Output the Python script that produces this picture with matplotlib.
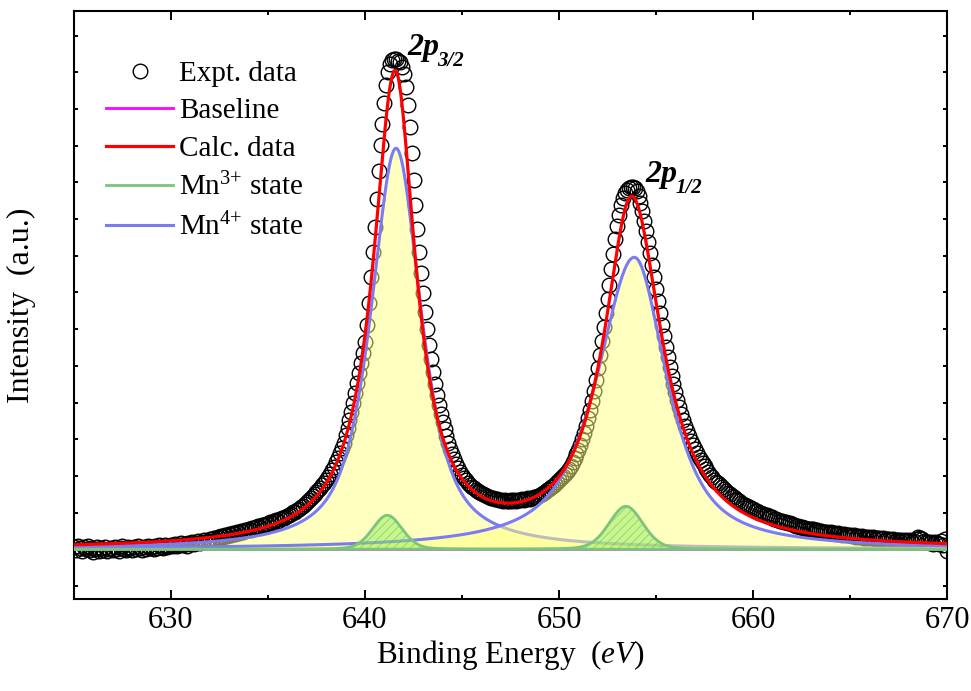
import matplotlib
matplotlib.use('Agg')
import matplotlib.pyplot as plt
import numpy as np
from matplotlib.ticker import MultipleLocator, NullFormatter

plt.rcParams['font.family'] = ['Liberation Serif', 'DejaVu Serif']
plt.rcParams['mathtext.fontset'] = 'custom'
plt.rcParams['mathtext.rm'] = 'Liberation Serif'
plt.rcParams['mathtext.it'] = 'Liberation Serif:italic'
plt.rcParams['mathtext.bf'] = 'Liberation Serif:bold'
plt.rcParams['mathtext.default'] = 'regular'
plt.rcParams['hatch.linewidth'] = 0.6

# Mn 2p scan, 625.0 - 670.0 eV in 0.1 eV steps (baseline subtracted, a.u.)
scan_start = 625.0
scan_step = 0.1
counts = [
    2, -1, 3, 1, -2, 2, 0, 3, -1, 1,            # 625
    -3, 0, 2, -2, 1, -1, 2, -2, 0, 1,           # 626
    -1, 2, 0, -2, 1, 3, 0, -1, 2, 1,            # 627
    -1, 2, 0, 3, 1, -1, 2, 0, 3, 1,             # 628
    2, 0, 3, 1, 4, 2, 1, 4, 2, 3,               # 629
    4, 3, 5, 3, 4, 6, 4, 5, 3, 6,               # 630
    5, 7, 5, 6, 8, 6, 7, 9, 7, 8,               # 631
    10, 8, 11, 9, 12, 11, 13, 12, 14, 13,       # 632
    15, 14, 16, 15, 17, 16, 18, 17, 19, 19,     # 633
    20, 19, 21, 21, 22, 23, 22, 24, 24, 25,     # 634
    25, 27, 26, 28, 29, 28, 30, 31, 31, 32,     # 635
    33, 34, 35, 37, 37, 39, 40, 42, 43, 45,     # 636
    47, 49, 51, 53, 55, 57, 59, 61, 64, 66,     # 637
    69, 72, 75, 79, 82, 87, 91, 96, 101, 106,   # 638
    114, 121, 129, 137, 146, 156, 166, 176, 186, 196,   # 639
    207, 224, 246, 272, 297, 322, 350, 378, 404, 425,   # 640
    446, 464, 477, 485, 489, 490, 490, 488, 487, 482,   # 641
    475, 462, 444, 422, 396, 369, 344, 320, 297, 276,   # 642
    256, 237, 220, 204, 190, 177, 165, 154, 144, 135,   # 643
    127, 120, 113, 106, 100, 95, 90, 85, 81, 77,        # 644
    74, 71, 69, 66, 64, 62, 61, 59, 58, 57,     # 645
    56, 55, 54, 53, 52, 51, 51, 50, 50, 49,     # 646
    49, 48, 49, 48, 48, 49, 48, 49, 48, 49,     # 647
    49, 50, 49, 50, 51, 50, 51, 52, 52, 53,     # 648
    54, 55, 56, 57, 59, 60, 62, 63, 65, 67,     # 649
    69, 71, 73, 75, 77, 80, 83, 87, 91, 95,     # 650
    99, 104, 110, 116, 123, 131, 139, 148, 158, 169,    # 651
    181, 194, 208, 222, 236, 250, 264, 280, 295, 310,   # 652
    323, 334, 344, 351, 356, 359, 361, 362, 362, 361,   # 653
    358, 353, 346, 338, 328, 318, 307, 296, 284, 272,   # 654
    260, 248, 236, 224, 213, 202, 192, 182, 173, 165,   # 655
    157, 149, 142, 135, 129, 123, 118, 113, 108, 104,   # 656
    100, 96, 92, 89, 86, 83, 80, 77, 74, 72,    # 657
    69, 67, 66, 64, 62, 60, 58, 56, 55, 53,     # 658
    52, 50, 49, 48, 46, 45, 44, 43, 42, 41,     # 659
    40, 38, 38, 36, 36, 35, 34, 34, 33, 32,     # 660
    32, 30, 30, 29, 28, 28, 27, 27, 26, 26,     # 661
    25, 24, 23, 23, 22, 22, 21, 21, 20, 20,     # 662
    20, 20, 19, 19, 18, 18, 17, 17, 17, 16,     # 663
    17, 16, 16, 15, 16, 15, 14, 15, 14, 14,     # 664
    14, 13, 14, 12, 13, 12, 13, 11, 12, 11,     # 665
    12, 11, 12, 10, 11, 11, 10, 11, 9, 10,      # 666
    10, 9, 10, 8, 9, 9, 8, 9, 8, 9,             # 667
    8, 9, 7, 8, 10, 12, 11, 10, 8, 7,           # 668
    7, 6, 7, 5, 7, 6, 5, 8, 4, 10,              # 669
    -2,                                         # 670
]

baseline_level = 0.0

# fit peaks: (centre eV, height, HWHM low-BE side, HWHM high-BE side, lorentzian fraction)
calc_peaks = [(641.55, 472, 1.38, 1.28, 1.0), (653.75, 348, 1.75, 1.9, 1.0)]
mn4_peaks = [(641.6, 401, 1.55, 1.55, 0.75), (653.88, 292, 2.3, 2.0, 0.8)]
mn3_peaks = [(641.15, 34, 0.9, 0.9, 0.2), (653.45, 43, 1.03, 1.03, 0.2)]

peak_labels = [('2p', '3/2', 642.2, 494, 643.7, 483),
               ('2p', '1/2', 654.45, 367, 656.0, 356)]


def pseudo_voigt(e, c, h, wl, wr, eta):
    w = np.where(e < c, wl, wr)
    x2 = ((e - c) / w) ** 2
    return h * (eta / (1 + x2) + (1 - eta) * np.exp(-np.log(2) * x2))


energy = scan_start + scan_step * np.arange(len(counts))
e = np.linspace(625, 670, 2251)

fig = plt.figure(figsize=(9.71, 6.91), dpi=100)
ax = fig.add_axes([0.0762, 0.1327, 0.8991, 0.8521])

h_data, = ax.plot(energy, counts, 'o', mfc='none', mec='black', ms=10.5, mew=1.0,
                  zorder=1, label='Expt. data')

h_base, = ax.plot(e, np.full_like(e, baseline_level), color='#ff00ff', lw=2,
                  zorder=2, label='Baseline')

for i, p in enumerate(mn4_peaks):
    y = baseline_level + pseudo_voigt(e, *p)
    ax.fill_between(e, baseline_level, y, facecolor='#ffff80', alpha=0.5, lw=0,
                    zorder=3 + 2 * i)
    h_mn4, = ax.plot(e, y, color='#7b7bf2', lw=2.2, zorder=4 + 2 * i,
                     label='Mn$^{4{+}}$ state')

for p in mn3_peaks:
    y = baseline_level + pseudo_voigt(e, *p)
    ax.fill_between(e, baseline_level, y, facecolor='#90ee60', alpha=0.5,
                    hatch='////', edgecolor='#5aad4a', lw=0, zorder=7)
    h_mn3, = ax.plot(e, y, color='#7cc47c', lw=2, zorder=8, label='Mn$^{3{+}}$ state')

calc = baseline_level + sum(pseudo_voigt(e, *p) for p in calc_peaks)
h_calc, = ax.plot(e, calc, color='red', lw=2.3, zorder=9, label='Calc. data')

for main, sub, x1, y1, x2, y2 in peak_labels:
    ax.text(x1, y1, main, fontsize=23, fontweight='bold', fontstyle='italic',
            ha='left', va='baseline', zorder=10)
    ax.text(x2, y2, sub, fontsize=15, fontweight='bold', fontstyle='italic',
            ha='left', va='baseline', zorder=10)

ax.set_xlim(625, 670)
ax.set_ylim(-50, 538.8)

ax.xaxis.set_major_locator(MultipleLocator(10))
ax.xaxis.set_minor_locator(MultipleLocator(5))
ax.yaxis.set_major_locator(MultipleLocator(36.7))
ax.yaxis.set_major_formatter(NullFormatter())
ax.tick_params(which='both', direction='in', top=True, right=True, width=1.4)
ax.tick_params(axis='x', which='major', length=6.5, labelsize=22, pad=5)
ax.tick_params(axis='x', which='minor', length=3.2)
ax.tick_params(axis='y', which='major', length=3.2)
for s in ax.spines.values():
    s.set_linewidth(1.5)

ax.set_xlabel('Binding Energy  ($\\mathit{eV}$)', fontsize=22.5, va='top')
ax.xaxis.set_label_coords(0.5, -0.066)
ax.set_ylabel('Intensity  (a.u.)', fontsize=23)
ax.yaxis.set_label_coords(-0.0435, 0.5)

ax.legend(handles=[h_data, h_base, h_calc, h_mn3, h_mn4], loc='upper left',
          bbox_to_anchor=(0.0367, 0.915), frameon=False, fontsize=21,
          handlelength=2.3, handletextpad=0.2, labelspacing=0.38, borderpad=0,
          borderaxespad=0, numpoints=1)

fig.savefig('out.png', dpi=100)
